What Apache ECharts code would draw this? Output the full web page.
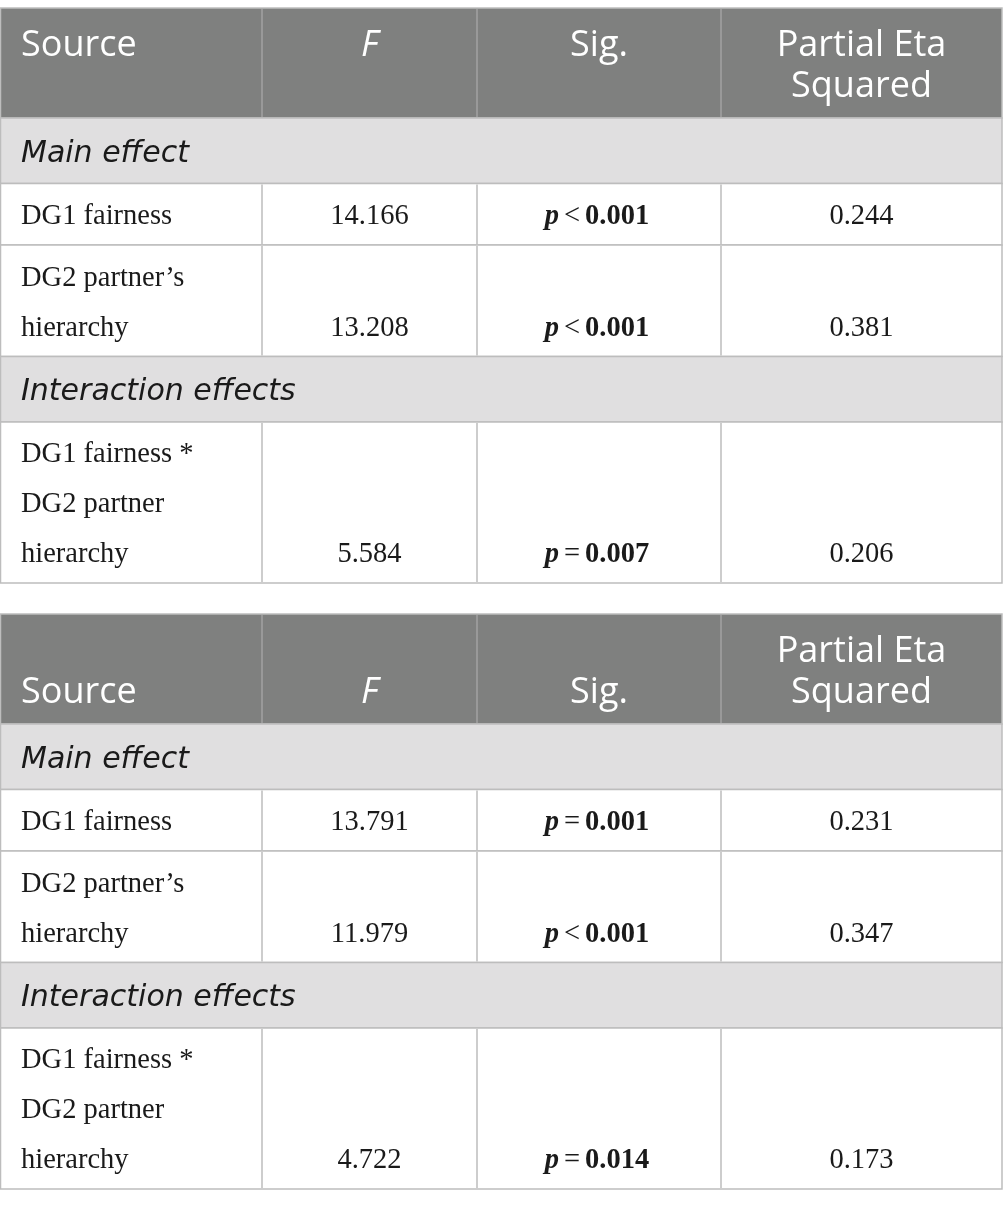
<!DOCTYPE html>
<html>
<head>
<meta charset="utf-8">
<script src="https://cdn.jsdelivr.net/npm/echarts@6/dist/echarts.min.js"></script>
<style>
html, body { margin: 0; padding: 0; background: #fff; }
#main { width: 1005px; height: 1208px; }
</style>
</head>
<body>
<div id="main"></div>
<script>
// table contents
var headers = ['Source', 'F', 'Sig.', 'Partial Eta\nSquared'];
var groups = ['Main effect', 'Interaction effects'];
var sources = ['DG1 fairness', 'DG2 partner\u2019s\nhierarchy', 'DG1 fairness *\nDG2 partner\nhierarchy'];

var fTable1 = [14.166, 13.208, 5.584];
var sigOp1 = ['<', '<', '='];
var sigP1 = ['0.001', '0.001', '0.007'];
var eta1 = [0.244, 0.381, 0.206];

var fTable2 = [13.791, 11.979, 4.722];
var sigOp2 = ['=', '<', '='];
var sigP2 = ['0.001', '0.001', '0.014'];
var eta2 = [0.231, 0.347, 0.173];

// layout
var colX = [0.5, 262, 477, 721, 1002];
var tableTop = [8, 614];
var rowH = [110, 65.5, 61.5, 111.5, 65.5, 161];
var rowKinds = ['head', 'group', 'data', 'data', 'group', 'data'];
var headerAlign = ['top', 'bottom'];

var HEAD_BG = '#7f807f', GROUP_BG = '#e0dfe0', LINE = '#bdbdbd', HEAD_LINE = '#a2a2a2';
var INK = '#1a1a1a';
var SANS = '"Open Sans", "Noto Sans", sans-serif';
var GROUP_FONT = '"DejaVu Sans", sans-serif';
var SERIF = '"Liberation Serif", "DejaVu Serif", serif';
var HEAD_SIZE = 36, GROUP_SIZE = 30, BODY_SIZE = 28.5;

var tables = [
    { f: fTable1, op: sigOp1, p: sigP1, eta: eta1 },
    { f: fTable2, op: sigOp2, p: sigP2, eta: eta2 }
];

var rows = [];
tableTop.forEach(function (top, t) {
    var g = 0, d = 0;
    rowKinds.forEach(function (k, i) {
        rows.push({ value: [t, i], kind: k, idx: k === 'group' ? g++ : (k === 'data' ? d++ : 0) });
    });
});

var chart = echarts.init(document.getElementById('main'));

function renderRow(params, api) {
    var r = rows[params.dataIndex];
    var t = r.value[0], i = r.value[1];
    var y0 = tableTop[t];
    for (var k = 0; k < i; k++) y0 += rowH[k];
    var y1 = y0 + rowH[i];
    var tl = api.coord([colX[0], y0]), br = api.coord([colX[4], y1]);
    var children = [];
    var bg = r.kind === 'head' ? HEAD_BG : (r.kind === 'group' ? GROUP_BG : '#fff');

    children.push({
        type: 'rect',
        shape: { x: tl[0], y: tl[1], width: br[0] - tl[0], height: br[1] - tl[1] },
        style: { fill: bg, stroke: LINE, lineWidth: 1.5 }
    });
    if (r.kind !== 'group') {
        for (var c = 1; c < 4; c++) {
            var a = api.coord([colX[c], y0]), b = api.coord([colX[c], y1]);
            children.push({
                type: 'line',
                shape: { x1: a[0], y1: a[1] + 1, x2: b[0], y2: b[1] - 1 },
                style: { stroke: r.kind === 'head' ? HEAD_LINE : LINE, lineWidth: 1.5 }
            });
        }
    }

    // text placed by its baseline
    function txt(x, base, s, font, size, fill, align) {
        var p = api.coord([x, base - 0.3 * size]);
        return {
            type: 'text',
            style: { x: p[0], y: p[1], text: s, font: font, fill: fill, align: align, verticalAlign: 'middle' }
        };
    }
    function colMid(c) { return (colX[c] + colX[c + 1]) / 2; }

    if (r.kind === 'head') {
        headers.forEach(function (h, c) {
            var lines = h.split('\n');
            var first = headerAlign[t] === 'top' ? y0 + 49 : y1 - 20.5 - (lines.length - 1) * 41;
            lines.forEach(function (ln, j) {
                var font = (c === 1 ? 'italic ' : '') + HEAD_SIZE + 'px ' + SANS;
                children.push(txt(c === 0 ? 21 : colMid(c), first + j * 41, ln, font, HEAD_SIZE, '#fff', c === 0 ? 'left' : 'center'));
            });
        });
    } else if (r.kind === 'group') {
        children.push(txt(21, y1 - 20.5, groups[r.idx], 'italic ' + GROUP_SIZE + 'px ' + GROUP_FONT, GROUP_SIZE, INK, 'left'));
    } else {
        var d = r.idx, tb = tables[t];
        var base = y1 - 19.5;
        var bodyFont = BODY_SIZE + 'px ' + SERIF;
        var lines = sources[d].split('\n');
        lines.forEach(function (ln, j) {
            children.push(txt(21, base - (lines.length - 1 - j) * 50, ln, bodyFont, BODY_SIZE, INK, 'left'));
        });
        children.push(txt(colMid(1), base, tb.f[d].toFixed(3), bodyFont, BODY_SIZE, INK, 'center'));
        children.push(txt(colMid(3), base, tb.eta[d].toFixed(3), bodyFont, BODY_SIZE, INK, 'center'));
        var sp = api.coord([colMid(2) - 2, base - 0.3 * BODY_SIZE]);
        children.push({
            type: 'text',
            style: {
                x: sp[0], y: sp[1], align: 'center', verticalAlign: 'middle', fill: INK,
                text: '{pi|p}{op|' + tb.op[d] + '}{b|' + tb.p[d] + '}',
                rich: {
                    pi: { fontFamily: SERIF, fontSize: BODY_SIZE, fontStyle: 'italic', fontWeight: 'bold', fill: INK },
                    op: { fontFamily: SERIF, fontSize: BODY_SIZE, fill: INK, padding: [0, 5] },
                    b: { fontFamily: SERIF, fontSize: BODY_SIZE, fontWeight: 'bold', fill: INK }
                }
            }
        });
    }
    return { type: 'group', children: children };
}

chart.setOption({
    animation: false,
    grid: { left: 0, right: 0, top: 0, bottom: 0 },
    xAxis: { type: 'value', min: 0, max: 1005, show: false },
    yAxis: { type: 'value', min: 0, max: 1208, inverse: true, show: false },
    series: [{
        type: 'custom',
        renderItem: renderRow,
        silent: true,
        data: rows.map(function (r) { return r.value; })
    }]
});
</script>
</body>
</html>
